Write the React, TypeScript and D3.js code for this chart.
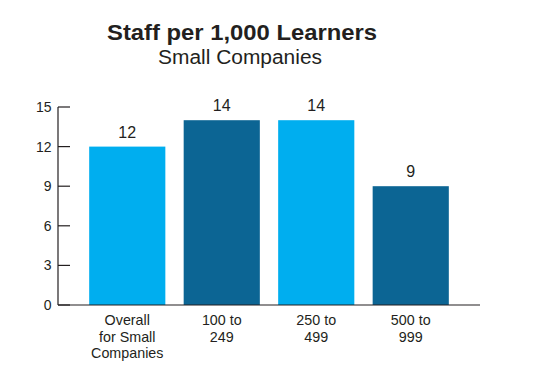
import React from "react";
import * as d3 from "d3";

const categories: string[][] = [
  ["Overall", "for Small", "Companies"],
  ["100 to", "249"],
  ["250 to", "499"],
  ["500 to", "999"],
];
const values: number[] = [12, 14, 14, 9];
const colors: string[] = ["#00AEEF", "#0C6594", "#00AEEF", "#0C6594"];
const yTicks: number[] = [0, 3, 6, 9, 12, 15];
const title = "Staff per 1,000 Learners";
const subtitle = "Small Companies";

export default function App() {
  const W = 537, H = 381;
  const font = "'Liberation Sans', Arial, Helvetica, sans-serif";
  const keys = categories.map((_, i) => String(i));
  const x = d3.scaleBand<string>().domain(keys).range([58, 480]).paddingInner(0.194).paddingOuter(0.33);
  const y = d3.scaleLinear().domain([0, 15]).range([305, 107]);
  return (
    <svg width={W} height={H} style={{ position: "absolute", left: 0, top: 0, background: "#fff" }} fontFamily={font}>
      <text x={242} y={40} textAnchor="middle" fontWeight="bold" fontSize={22.5} textLength={270} lengthAdjust="spacingAndGlyphs" fill="#231f20">{title}</text>
      <text x={240} y={63.5} textAnchor="middle" fontSize={19.5} textLength={164} lengthAdjust="spacingAndGlyphs" fill="#231f20">{subtitle}</text>
      {values.map((v, i) => (
        <g key={i}>
          <rect x={x(keys[i])} y={y(v)} width={x.bandwidth()} height={y(0) - y(v)} fill={colors[i]} />
          <text x={(x(keys[i]) as number) + x.bandwidth() / 2} y={y(v) - 9} textAnchor="middle" fontSize={16} fill="#231f20">{v}</text>
          {categories[i].map((line, j) => (
            <text key={j} x={(x(keys[i]) as number) + x.bandwidth() / 2} y={325 + j * 16.5} textAnchor="middle" fontSize={14.3} fill="#231f20">{line}</text>
          ))}
        </g>
      ))}
      <line x1={58} x2={58} y1={y(15)} y2={y(0)} stroke="#231f20" strokeWidth={1.2} />
      <line x1={58} x2={480} y1={y(0)} y2={y(0)} stroke="#231f20" strokeWidth={1.2} />
      {yTicks.map((t) => (
        <g key={t}>
          <line x1={58} x2={70} y1={y(t)} y2={y(t)} stroke="#231f20" strokeWidth={1.2} />
          <text x={51.5} y={y(t) + 5} textAnchor="end" fontSize={14} fill="#231f20">{t}</text>
        </g>
      ))}
    </svg>
  );
}
